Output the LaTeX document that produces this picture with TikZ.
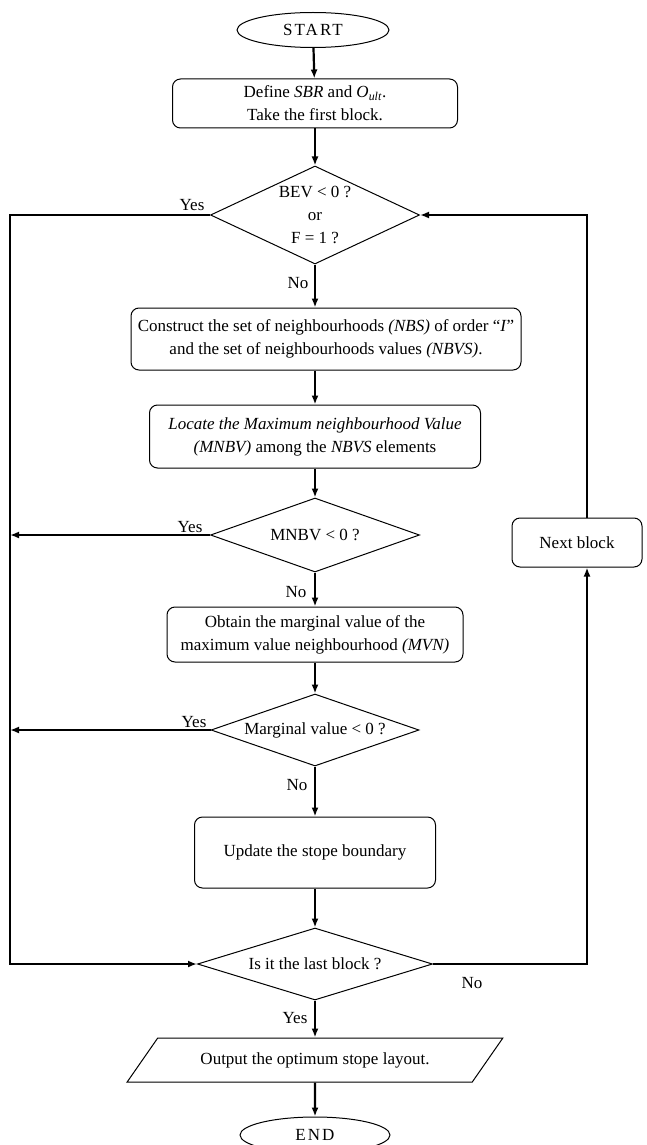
\documentclass[tikz,border=0pt]{standalone}
\usepackage{fontspec}
\setmainfont{Liberation Serif}
\newfontfamily\spacedfont[LetterSpace=12]{Liberation Serif}
\usepackage{tikz}
\usetikzlibrary{shapes.geometric,arrows.meta}
\pgfdeclarelayer{edgelayer}
\pgfdeclarelayer{nodelayer}
\pgfsetlayers{edgelayer,nodelayer,main}
\tikzstyle{terminal}=[ellipse, fill=white, draw=black, line width=1pt, minimum width=152pt, minimum height=35pt, font={\spacedfont\fontsize{17}{23}\selectfont}]
\tikzstyle{process}=[rectangle, rounded corners=8pt, fill=white, draw=black, line width=1pt, align=center]
\tikzstyle{decision}=[diamond, fill=white, draw=black, line width=1pt, align=center, inner sep=0pt]
\tikzstyle{inout}=[trapezium, trapezium left angle=44, trapezium right angle=136, trapezium stretches=true, fill=white, draw=black, line width=1pt]
\tikzstyle{flow}=[draw=black, line width=2.2pt, -{Latex[length=9pt,width=7pt]}]
\tikzstyle{line}=[draw=black, line width=2.2pt]

\begin{document}
\begin{tikzpicture}[x=1pt, y=-1pt, font=\fontsize{17}{23}\selectfont]
	\useasboundingbox (0,0) rectangle (647,1145);
	\begin{pgfonlayer}{nodelayer}

	%main column
		\node [style=terminal] (start) at (313,30) {START};
		\node [style=process, minimum width=285pt, minimum height=49pt] (define) at (315,103.5) {Define \textit{SBR} and \textit{O}\textsubscript{\textit{ult}}.\\Take the first block.};
		\node [style=decision, minimum width=209pt, minimum height=98pt, shape aspect=2.1] (bev) at (315,215) {BEV < 0 ?\\or\\F = 1 ?};
		\node [style=process, minimum width=390pt, minimum height=62pt] (construct) at (326,339) {Construct the set of neighbourhoods \textit{(NBS)} of order ``\textit{I}''\\and the set of neighbourhoods values \textit{(NBVS)}.};
		\node [style=process, minimum width=331pt, minimum height=63pt] (locate) at (315,436.5) {\textit{Locate the Maximum neighbourhood Value}\\\textit{(MNBV)} among the \textit{NBVS} elements};
		\node [style=decision, minimum width=209pt, minimum height=74pt, shape aspect=2.8] (mnbv) at (315,535) {MNBV < 0 ?};
		\node [style=process, minimum width=296pt, minimum height=55pt] (obtain) at (315,634.5) {Obtain the marginal value of the\\maximum value neighbourhood \textit{(MVN)}};
		\node [style=decision, minimum width=208pt, minimum height=72pt, shape aspect=2.9] (marginal) at (315,730) {Marginal value < 0 ?};
		\node [style=process, minimum width=241pt, minimum height=71pt] (update) at (315,852.5) {Update the stope boundary};
		\node [style=decision, minimum width=235pt, minimum height=72pt, shape aspect=3.3] (last) at (315,964) {Is it the last block ?};
		\node [style=inout, minimum width=377pt, minimum height=44pt] (output) at (315,1060) {Output the optimum stope layout.};
		\node [style=terminal, minimum width=150pt, minimum height=36pt] (end) at (315,1135) {END};

	%loop back
		\node [style=process, minimum width=130pt, minimum height=49pt] (next) at (577,542.5) {Next block};
		\coordinate (left top) at (10,215);
		\coordinate (left bottom) at (10,964);
		\coordinate (right top) at (587,215);
		\coordinate (right bottom) at (587,964);

	%answers
		\node (yes1) at (192,205) {Yes};
		\node (no1) at (298,283) {No};
		\node (yes2) at (190,527) {Yes};
		\node (no2) at (296,592) {No};
		\node (yes3) at (194,722) {Yes};
		\node (no3) at (297,785) {No};
		\node (no4) at (472,983) {No};
		\node (yes4) at (295,1018) {Yes};

	\end{pgfonlayer}
	\begin{pgfonlayer}{edgelayer}

		%main column
		\draw [style=flow] (start) to (define);
		\draw [style=flow] (define) to (bev);
		\draw [style=flow] (bev.south) to (bev.south |- construct.north);
		\draw [style=flow] (bev.south |- construct.south) to (locate.north);
		\draw [style=flow] (locate) to (mnbv);
		\draw [style=flow] (mnbv) to (obtain);
		\draw [style=flow] (obtain) to (marginal);
		\draw [style=flow] (marginal) to (update);
		\draw [style=flow] (update) to (last);
		\draw [style=flow] (last) to (output);
		\draw [style=flow] (output) to (end);

		%yes branches
		\draw [style=flow] (bev.west) -- (left top) -- (left bottom) -- (last.west);
		\draw [style=flow] (mnbv.west) -- (mnbv.west -| left top);
		\draw [style=flow] (marginal.west) -- (marginal.west -| left top);

		%next block
		\draw [style=flow] (last.east) -- (right bottom) -- (right bottom |- next.south);
		\draw [style=flow] (right top |- next.north) -- (right top) -- (bev.east);

	\end{pgfonlayer}
\end{tikzpicture}
\end{document}
